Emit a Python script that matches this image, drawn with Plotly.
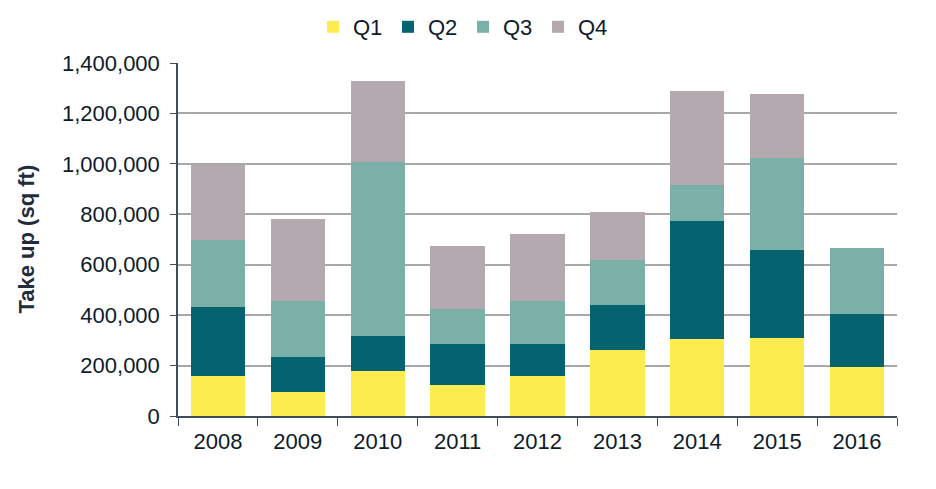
import plotly.graph_objects as go

years = ["2008", "2009", "2010", "2011", "2012", "2013", "2014", "2015", "2016"]
q1 = [160000, 97000, 177000, 122000, 157000, 262000, 305000, 310000, 194000]
q2 = [272000, 137000, 140000, 164000, 129000, 178000, 469000, 349000, 210000]
q3 = [266000, 221000, 690000, 137000, 169000, 178000, 141000, 364000, 262000]
q4 = [297000, 325000, 321000, 252000, 266000, 190000, 373000, 254000, 0]
series_names = ["Q1", "Q2", "Q3", "Q4"]
colors = ["#FDEC50", "#04636E", "#7AB0A8", "#B3A9AE"]

fig = go.Figure()
for name, vals, col in zip(series_names, [q1, q2, q3, q4], colors):
    fig.add_trace(go.Bar(x=years, y=vals, name=name, marker=dict(color=col, line=dict(width=0))))

font_family = "Liberation Sans, Arial, sans-serif"
txt = "#0d1b2a"
# page body has an 8px offset; margins compensate so the plot area sits at x 178-897, y 63-416
off = 8
W, H = 936, 489
fig.update_layout(
    barmode="stack",
    bargap=0.32,
    width=W, height=H,
    margin=dict(l=178 - off, r=W - (897 - off), t=63 - off, b=H - (416 - off)),
    plot_bgcolor="white", paper_bgcolor="white",
    font=dict(family=font_family, size=22, color=txt),
    legend=dict(orientation="h", x=(463 - off) / W, xanchor="center", xref="container",
                y=1 - (27 - off) / H, yanchor="middle", yref="container",
                traceorder="normal", font=dict(size=22), itemwidth=30, tracegroupgap=0,
                entrywidth=30, entrywidthmode="pixels"),
    xaxis=dict(showline=True, linecolor="#404d5b", linewidth=1.5,
               ticks="outside", tickson="boundaries", ticklen=8, tickcolor="#404d5b",
               tickfont=dict(size=22), automargin=False, ticklabelstandoff=5),
    yaxis=dict(range=[0, 1400000], dtick=200000, tickformat=",",
               showgrid=True, gridcolor="#A8A8A8", gridwidth=1.5,
               showline=True, linecolor="#404d5b", linewidth=1.5,
               ticks="outside", ticklen=6, tickcolor="#404d5b",
               zeroline=False, tickfont=dict(size=22), automargin=False,
               ticklabelstandoff=6),
    annotations=[dict(text="<b>Take up (sq ft)</b>", xref="paper", yref="paper",
                      x=(26 - 178) / 719, y=0.5, xanchor="center", yanchor="middle",
                      textangle=-90, showarrow=False,
                      font=dict(size=22, color="#1f2d3d"))],
)
fig.write_html("out.html")
